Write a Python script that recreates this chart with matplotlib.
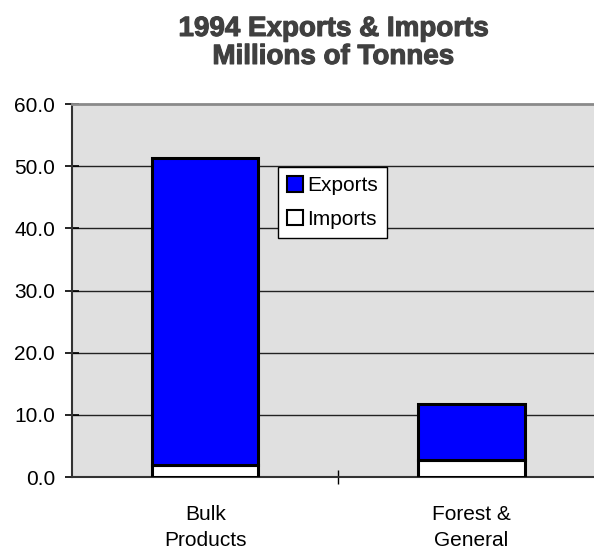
import matplotlib.pyplot as plt
import matplotlib.patheffects as pe
from matplotlib.patches import Patch

categories = ["Bulk\nProducts", "Forest &\nGeneral"]
imports = [1.9, 2.7]
exports = [49.4, 9.0]
yticks = [0.0, 10.0, 20.0, 30.0, 40.0, 50.0, 60.0]

plt.rcParams["font.family"] = ["Liberation Sans", "DejaVu Sans"]

fig = plt.figure(figsize=(5.94, 5.5), dpi=100)
ax = fig.add_axes([0.1212, 0.1327, 0.897, 0.678])
ax.set_facecolor("#e0e0e0")

x = range(len(categories))

ax.bar(x, imports, width=0.4, color="white", edgecolor="black", linewidth=2.2, zorder=3)
ax.bar(x, exports, width=0.4, bottom=imports, color="#0000ff",
       edgecolor="black", linewidth=2.2, zorder=3)

ax.set_xlim(-0.5, 1.5)
ax.set_ylim(0, 60)
ax.set_yticks(yticks)
ax.set_yticklabels(["%.1f" % v for v in yticks], fontsize=15)
ax.tick_params(axis="y", direction="inout", length=9.5, width=1.2, pad=7.5)

ax.set_xticks(list(x))
ax.set_xticklabels(categories, fontsize=15, linespacing=1.5)
ax.tick_params(axis="x", which="major", length=0, pad=20)
ax.set_xticks([0.5], minor=True)
ax.tick_params(axis="x", which="minor", direction="inout", length=10, width=1)

for v in yticks[1:-1]:
    ax.axhline(v, color="#222222", linewidth=1, zorder=1)

ax.spines["left"].set_color("#333333")
ax.spines["left"].set_linewidth(1.5)
ax.spines["bottom"].set_color("#333333")
ax.spines["bottom"].set_linewidth(1.5)
ax.spines["top"].set_color("#8a8a8a")
ax.spines["top"].set_linewidth(2)
ax.spines["right"].set_visible(False)

fig.text(0.561, 0.971, "1994 Exports & Imports\nMillions of Tonnes",
         ha="center", va="top", fontsize=20, fontweight="bold",
         color="#404040", linespacing=1.1,
         path_effects=[pe.withStroke(linewidth=0.8, foreground="#404040")])

handles = [Patch(facecolor="#0000ff", edgecolor="black", linewidth=1.5, label="Exports"),
           Patch(facecolor="white", edgecolor="black", linewidth=1.5, label="Imports")]
leg = fig.legend(handles=handles, loc="upper left", bbox_to_anchor=(278 / 594, 1 - 167 / 550),
                 fontsize=15, frameon=True, fancybox=False, framealpha=1,
                 edgecolor="black", handlelength=0.75, handleheight=0.75,
                 handletextpad=0.2, borderpad=0.45, labelspacing=0.7, borderaxespad=0)
leg.get_frame().set_linewidth(1)

plt.savefig("out.png", dpi=100)
